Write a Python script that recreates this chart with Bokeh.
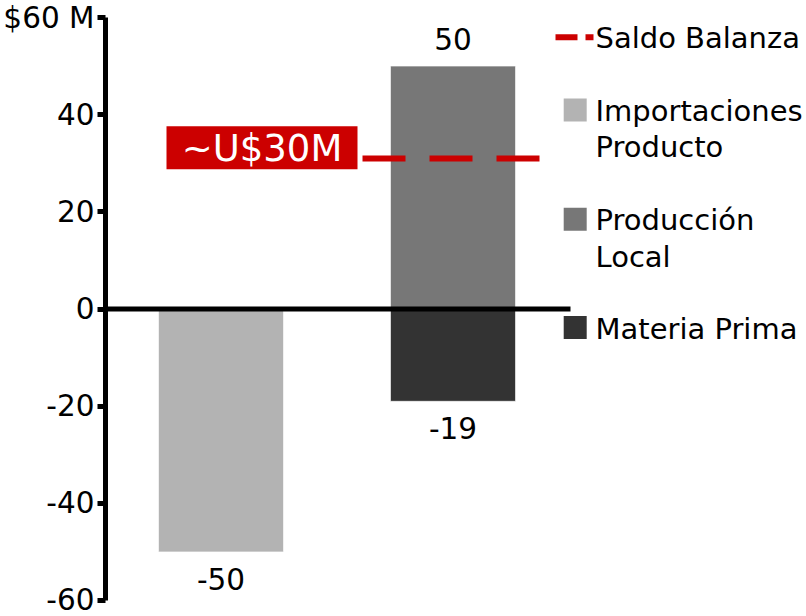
from bokeh.plotting import figure
from bokeh.models import Range1d, FixedTicker, ColumnDataSource
from bokeh.embed import file_html
from bokeh.resources import INLINE
from bokeh.core.properties import value

# ---------------- data ----------------
categories = ["Importaciones Producto", "Producción Local", "Materia Prima"]
bar_x = [1, 2, 2]
bar_values = [-50, 50, -19]
bar_colors = ["#b3b3b3", "#777777", "#333333"]
bar_labels = ["-50", "50", "-19"]
saldo_value = 31
saldo_label = "~U$30M"
y_ticks = [-60, -40, -20, 0, 20, 40, 60]
y_tick_labels = ["-60", "-40", "-20", "0", "20", "40", "$60 M"]
legend_saldo = "Saldo Balanza"
legend_lines = [["Importaciones", "Producto"], ["Producción", "Local"], ["Materia Prima"]]

# ---------------- layout ----------------
FONT = "DejaVu Sans"
W, H = 806, 616
FL, FT, FB = 105, 17, 16
frame_w = W - FL
frame_h = H - FT - FB
X_PX = 232.0                       # pixels per category step
x_start = 1 - (220.5 - FL) / X_PX
x_end = x_start + frame_w / X_PX
y_start, y_end = -60, 60
Y_PX = frame_h / (y_end - y_start)


def dx(px):
    return x_start + (px - FL) / X_PX


def dy(py):
    return y_end - (py - FT) / Y_PX


p = figure(width=W, height=H, output_backend="svg", toolbar_location=None,
           x_range=Range1d(x_start, x_end), y_range=Range1d(y_start, y_end),
           x_axis_location=None, min_border_left=FL, min_border_right=0,
           min_border_top=FT, min_border_bottom=FB)
p.grid.visible = False
p.outline_line_color = None
p.background_fill_color = "white"
p.border_fill_color = "white"

# bars
src = ColumnDataSource(dict(
    x=bar_x,
    top=[max(v, 0) for v in bar_values],
    bottom=[min(v, 0) for v in bar_values],
    color=bar_colors,
))
p.vbar(x="x", top="top", bottom="bottom", width=125 / X_PX, source=src,
       fill_color="color", line_color="white", line_alpha=0.6, line_width=1)

# zero line
p.segment(x0=[x_start], y0=[0], x1=[dx(570)], y1=[0], line_color="black", line_width=5)

# saldo dashed line
p.segment(x0=[dx(362)], y0=[saldo_value], x1=[dx(545)], y1=[saldo_value],
          line_color="#cc0000", line_width=6, line_dash="43 24")

# saldo label box
p.quad(left=[dx(166)], right=[dx(357)], top=[dy(125.7)], bottom=[dy(168.7)],
       fill_color="#cc0000", line_color=None)
p.text(x=[dx(261.5)], y=[dy(147.5)], text=[saldo_label], text_color="white",
       text_font=value(FONT), text_font_size="37px", text_align="center",
       text_baseline="middle")

# bar value labels
off = 27 / Y_PX
lab_y = [v + off if v > 0 else v - off for v in bar_values]
p.text(x=bar_x, y=lab_y, text=bar_labels, text_color="black",
       text_font=value(FONT), text_font_size="29.5px", text_align="center",
       text_baseline="middle")

# legend
LFS = "29px"
p.segment(x0=[dx(555)], y0=[dy(36.7)], x1=[dx(593)], y1=[dy(36.7)],
          line_color="#cc0000", line_width=6, line_dash="22 8")
p.text(x=[dx(595)], y=[dy(37)], text=[legend_saldo], text_color="black",
       text_font=value(FONT), text_font_size=LFS, text_align="left",
       text_baseline="middle")
sq_centers = [109.5, 218.7, 327.0]
p.scatter(x=[dx(574.7)] * 3, y=[dy(c) for c in sq_centers], marker="square",
          size=23, fill_color=bar_colors, line_color=None)
line_gap = 36.3
tx, ty, tt = [], [], []
for c, lines in zip(sq_centers, legend_lines):
    for i, t in enumerate(lines):
        tx.append(dx(595))
        ty.append(dy(c + 1 + i * line_gap))
        tt.append(t)
p.text(x=tx, y=ty, text=tt, text_color="black", text_font=value(FONT),
       text_font_size=LFS, text_align="left", text_baseline="middle")

# y axis
ax = p.yaxis[0]
ax.ticker = FixedTicker(ticks=y_ticks)
ax.major_label_overrides = {t: l for t, l in zip(y_ticks, y_tick_labels)}
ax.axis_line_width = 5
ax.axis_line_color = "black"
ax.major_tick_line_width = 5
ax.major_tick_line_color = "black"
ax.major_tick_out = 8
ax.major_tick_in = 0
ax.minor_tick_out = 0
ax.minor_tick_in = 0
ax.major_label_standoff = 3
ax.major_label_text_font = FONT
ax.major_label_text_font_size = "29.5px"
ax.major_label_text_color = "black"

open("out.html", "w").write(file_html(p, INLINE))
